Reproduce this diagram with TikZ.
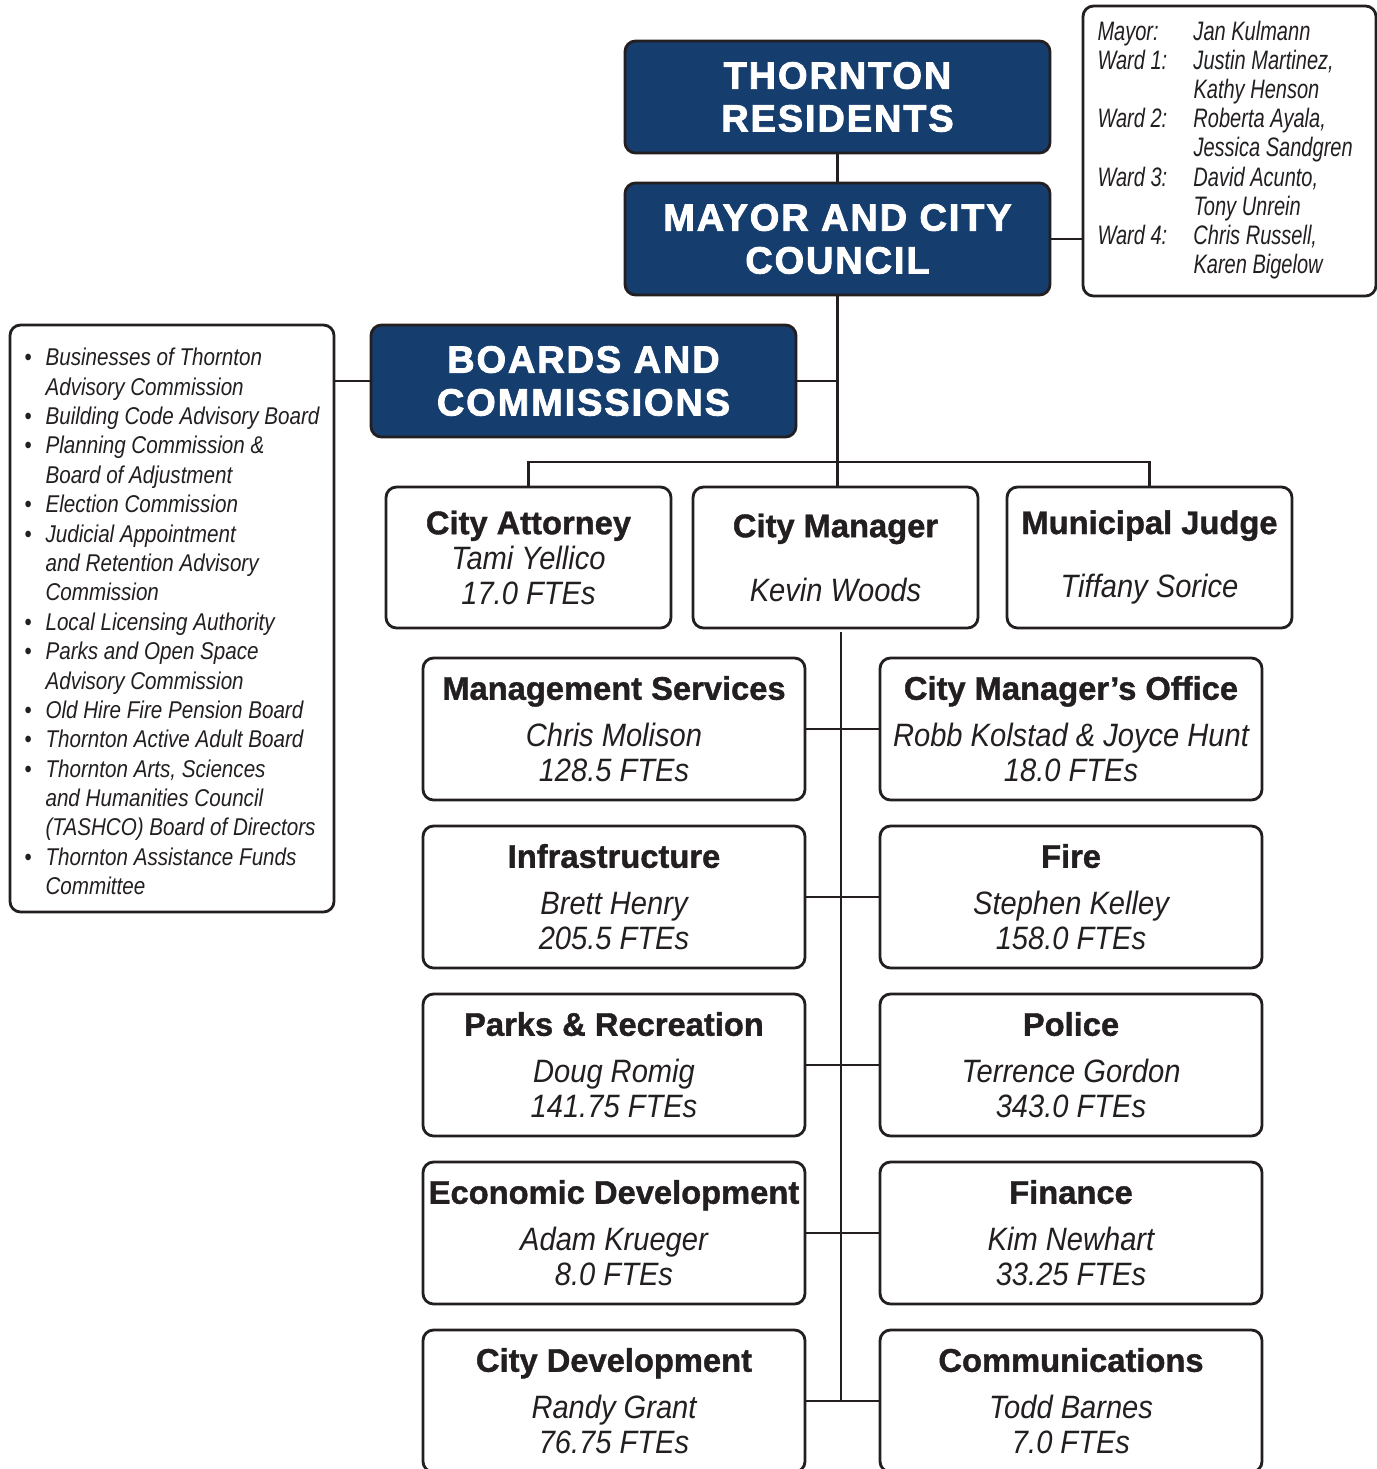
\documentclass[tikz,border=0pt]{standalone}
\usepackage{fontspec}
\usepackage{xcolor}
\usetikzlibrary{positioning}

\setmainfont{Liberation Sans}
\newfontfamily\heavyfam{Liberation Sans}[LetterSpace=5,BoldFeatures={FakeBold=2.2}]
\newfontfamily\titlefam{Liberation Sans}[BoldFeatures={FakeBold=1.2}]
\newfontfamily\namefam{Liberation Sans}[FakeStretch=0.9]
\newfontfamily\listfam{Liberation Sans}[FakeStretch=0.85]
\newfontfamily\wardfam{Liberation Sans}[FakeStretch=0.75]

\definecolor{cityblue}{HTML}{153D6E}
\definecolor{boxline}{HTML}{231F20}

\newcommand{\depttitle}[1]{{\titlefam\upshape\bfseries\fontsize{9.3}{9.95}\selectfont #1}}

\tikzset{
	bluebox/.style={draw=boxline, fill=cityblue, rounded corners=3pt, line width=0.8pt, outer sep=0pt,
		minimum width=4.25cm, minimum height=1.12cm, align=center, text=white,
		font=\heavyfam\bfseries\fontsize{10.8}{12.2}\selectfont},
	whitebox/.style={draw=boxline, fill=white, rounded corners=3pt, line width=0.8pt, outer sep=0pt,
		align=center, inner sep=1pt, text=boxline,
		font=\namefam\itshape\fontsize{9.2}{9.95}\selectfont},
	topbox/.style={whitebox, minimum width=2.85cm, minimum height=1.41cm},
	deptbox/.style={whitebox, minimum width=3.82cm, minimum height=1.42cm},
	link/.style={draw=boxline, line width=0.6pt}
}

\begin{document}
\begin{tikzpicture}
			\useasboundingbox (0,0) rectangle (13.77,-14.69);

			\node[bluebox] (residents) at (8.375,-0.97) {THORNTON\\RESIDENTS};
			\node[bluebox] (council) [below=0.3cm of residents] {MAYOR AND CITY\\COUNCIL};
			\node[bluebox] (boards) at (5.835,-3.81) {BOARDS AND\\COMMISSIONS};

			\node[whitebox, minimum width=2.93cm, minimum height=2.90cm, inner sep=0pt,
				font=\wardfam\itshape\fontsize{7.6}{8.3}\selectfont] (wards) at (12.295,-1.51) {%
				\begin{tabular}{@{}p{0.96cm}@{}p{1.68cm}@{}}
					Mayor: & Jan Kulmann\\
					Ward 1: & Justin Martinez,\\
					 & Kathy Henson\\
					Ward 2: & Roberta Ayala,\\
					 & Jessica Sandgren\\
					Ward 3: & David Acunto,\\
					 & Tony Unrein\\
					Ward 4: & Chris Russell,\\
					 & Karen Bigelow
				\end{tabular}};

			\node[whitebox, minimum width=3.24cm, minimum height=5.87cm, inner sep=0pt,
				font=\listfam\itshape\fontsize{6.9}{8.36}\selectfont] (boardlist) at (1.72,-6.185) {%
				\begin{tabular}{@{}p{0.21cm}@{}l@{}}
					\rule{0pt}{9.2pt}\textup{\textbullet} & Businesses of Thornton\\
					 & Advisory Commission\\
					\textup{\textbullet} & Building Code Advisory Board\\
					\textup{\textbullet} & Planning Commission \&\\
					 & Board of Adjustment\\
					\textup{\textbullet} & Election Commission\\
					\textup{\textbullet} & Judicial Appointment\\
					 & and Retention Advisory\\
					 & Commission\\
					\textup{\textbullet} & Local Licensing Authority\\
					\textup{\textbullet} & Parks and Open Space\\
					 & Advisory Commission\\
					\textup{\textbullet} & Old Hire Fire Pension Board\\
					\textup{\textbullet} & Thornton Active Adult Board\\
					\textup{\textbullet} & Thornton Arts, Sciences\\
					 & and Humanities Council\\
					 & (TASHCO) Board of Directors\\
					\textup{\textbullet} & Thornton Assistance Funds\\
					 & Committee
				\end{tabular}};

			\node[topbox] (attorney) at (5.285,-5.575) {\depttitle{City Attorney}\\Tami Yellico\\17.0 FTEs};
			\node[topbox] (manager) [right=0.22cm of attorney] {\depttitle{City Manager}\\[8.25pt]Kevin Woods};
			\node[topbox] (judge) [right=0.29cm of manager] {\depttitle{Municipal Judge}\\[8.25pt]Tiffany Sorice};

			\node[deptbox] (mgmt) at (6.14,-7.29) {\depttitle{Management Services}\\[3.4pt]Chris Molison\\128.5 FTEs};
			\node[deptbox] (infra) [below=0.26cm of mgmt] {\depttitle{Infrastructure}\\[3.4pt]Brett Henry\\205.5 FTEs};
			\node[deptbox] (parks) [below=0.26cm of infra] {\depttitle{Parks \& Recreation}\\[3.4pt]Doug Romig\\141.75 FTEs};
			\node[deptbox] (econ) [below=0.26cm of parks] {\depttitle{Economic Development}\\[3.4pt]Adam Krueger\\8.0 FTEs};
			\node[deptbox] (cdev) [below=0.26cm of econ] {\depttitle{City Development}\\[3.4pt]Randy Grant\\76.75 FTEs};

			\node[deptbox] (cmo) [right=0.75cm of mgmt] {\depttitle{City Manager’s Office}\\[3.4pt]Robb Kolstad \& Joyce Hunt\\18.0 FTEs};
			\node[deptbox] (fire) [right=0.75cm of infra] {\depttitle{Fire}\\[3.4pt]Stephen Kelley\\158.0 FTEs};
			\node[deptbox] (police) [right=0.75cm of parks] {\depttitle{Police}\\[3.4pt]Terrence Gordon\\343.0 FTEs};
			\node[deptbox] (finance) [right=0.75cm of econ] {\depttitle{Finance}\\[3.4pt]Kim Newhart\\33.25 FTEs};
			\node[deptbox] (comms) [right=0.75cm of cdev] {\depttitle{Communications}\\[3.4pt]Todd Barnes\\7.0 FTEs};

			\coordinate (trunktop) at (8.41,-6.32);

			\draw[link] (residents.south) -- (council.north);
			\draw[link] (council.east) -- (council.east -| wards.west);
			\draw[link] (council.south) -- (council.south |- manager.north);
			\draw[link] (boards.east) -- (boards.east -| council.south);
			\draw[link] (boards.west) -- (boards.west -| boardlist.east);
			\draw[link] (attorney.north) -- ++(0,0.25) -| (judge.north);
			\draw[link] (trunktop) -- (trunktop |- cdev.east);
			\foreach \l/\r in {mgmt/cmo, infra/fire, parks/police, econ/finance, cdev/comms}
				\draw[link] (\l.east) -- (\r.west);
		\end{tikzpicture}
\end{document}
